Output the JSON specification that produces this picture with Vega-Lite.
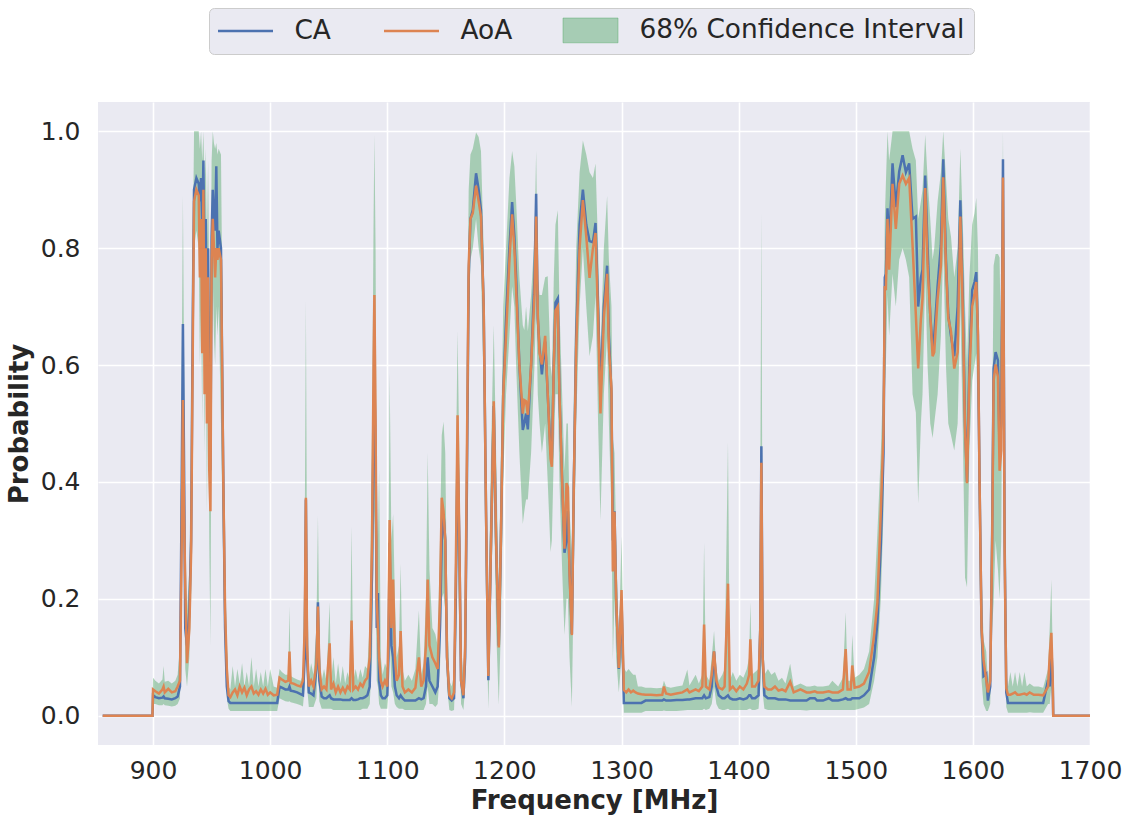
{
  "$schema": "https://vega.github.io/schema/vega-lite/v6.json",
  "width": 992,
  "height": 643,
  "autosize": {"type": "none"},
  "padding": {"left": 98, "top": 102, "right": 43, "bottom": 78},
  "background": "white",
  "config": {
    "view": {"stroke": null, "fill": "#EAEAF2"},
    "axis": {
      "grid": true, "gridColor": "white", "gridWidth": 1.6,
      "domain": false, "ticks": false,
      "labelFont": "DejaVu Sans", "labelFontSize": 25, "labelColor": "#262626",
      "titleFont": "DejaVu Sans", "titleFontSize": 26, "titleFontWeight": "bold", "titleColor": "#262626"
    },
    "legend": {
      "title": null, "orient": "none", "legendX": 111, "legendY": -94, "direction": "horizontal",
      "fillColor": "#EAEAF2", "strokeColor": "#CCCCCC", "cornerRadius": 5, "padding": 9,
      "labelFont": "DejaVu Sans", "labelFontSize": 26.4, "labelColor": "#262626", "labelOffset": 50, "labelLimit": 600,
      "columnPadding": 48, "symbolSize": 3025, "symbolType": "stroke", "symbolStrokeWidth": 2.5, "symbolOpacity": 1
    }
  },
  "data": {"values": [
    {"f":857,"CA":0,"AoA":0,"lo":0,"hi":0},
    {"f":899.5,"CA":0,"AoA":0,"lo":0,"hi":0},
    {"f":900,"CA":0.035,"AoA":0.045,"lo":0.02,"hi":0.065},
    {"f":902,"CA":0.032,"AoA":0.042,"lo":0.02,"hi":0.06},
    {"f":905,"CA":0.030,"AoA":0.038,"lo":0.018,"hi":0.055},
    {"f":908,"CA":0.031,"AoA":0.045,"lo":0.018,"hi":0.062},
    {"f":909,"CA":0.033,"AoA":0.05,"lo":0.02,"hi":0.085},
    {"f":910,"CA":0.030,"AoA":0.04,"lo":0.018,"hi":0.058},
    {"f":913,"CA":0.029,"AoA":0.046,"lo":0.017,"hi":0.06},
    {"f":916,"CA":0.028,"AoA":0.04,"lo":0.016,"hi":0.055},
    {"f":919,"CA":0.030,"AoA":0.042,"lo":0.017,"hi":0.06},
    {"f":921,"CA":0.033,"AoA":0.05,"lo":0.02,"hi":0.07},
    {"f":923,"CA":0.05,"AoA":0.06,"lo":0.03,"hi":0.12},
    {"f":924.5,"CA":0.4,"AoA":0.3,"lo":0.2,"hi":0.6},
    {"f":925.5,"CA":0.67,"AoA":0.54,"lo":0.45,"hi":0.89},
    {"f":926.5,"CA":0.42,"AoA":0.35,"lo":0.25,"hi":0.6},
    {"f":927.5,"CA":0.15,"AoA":0.22,"lo":0.08,"hi":0.3},
    {"f":929,"CA":0.12,"AoA":0.09,"lo":0.05,"hi":0.18},
    {"f":931,"CA":0.18,"AoA":0.15,"lo":0.1,"hi":0.25},
    {"f":932.5,"CA":0.3,"AoA":0.28,"lo":0.2,"hi":0.4},
    {"f":934,"CA":0.7,"AoA":0.65,"lo":0.55,"hi":0.8},
    {"f":935,"CA":0.9,"AoA":0.88,"lo":0.8,"hi":1.0},
    {"f":937,"CA":0.92,"AoA":0.9,"lo":0.83,"hi":1.0},
    {"f":939,"CA":0.91,"AoA":0.89,"lo":0.8,"hi":1.0},
    {"f":940,"CA":0.88,"AoA":0.75,"lo":0.6,"hi":0.97},
    {"f":941,"CA":0.92,"AoA":0.85,"lo":0.7,"hi":1.0},
    {"f":942,"CA":0.83,"AoA":0.62,"lo":0.5,"hi":0.95},
    {"f":943,"CA":0.95,"AoA":0.9,"lo":0.8,"hi":1.0},
    {"f":944,"CA":0.75,"AoA":0.55,"lo":0.45,"hi":0.9},
    {"f":945,"CA":0.85,"AoA":0.8,"lo":0.65,"hi":0.97},
    {"f":946,"CA":0.6,"AoA":0.5,"lo":0.35,"hi":0.8},
    {"f":947,"CA":0.8,"AoA":0.75,"lo":0.6,"hi":0.95},
    {"f":948,"CA":0.5,"AoA":0.42,"lo":0.3,"hi":0.72},
    {"f":949,"CA":0.42,"AoA":0.35,"lo":0.12,"hi":0.65},
    {"f":950,"CA":0.82,"AoA":0.78,"lo":0.6,"hi":0.95},
    {"f":951,"CA":0.9,"AoA":0.85,"lo":0.75,"hi":1.0},
    {"f":952,"CA":0.85,"AoA":0.8,"lo":0.65,"hi":0.98},
    {"f":953,"CA":0.83,"AoA":0.75,"lo":0.6,"hi":0.97},
    {"f":954,"CA":0.94,"AoA":0.8,"lo":0.7,"hi":0.98},
    {"f":955,"CA":0.8,"AoA":0.78,"lo":0.65,"hi":0.96},
    {"f":956,"CA":0.83,"AoA":0.8,"lo":0.7,"hi":0.97},
    {"f":958,"CA":0.8,"AoA":0.78,"lo":0.5,"hi":0.96},
    {"f":960,"CA":0.4,"AoA":0.4,"lo":0.25,"hi":0.55},
    {"f":961.5,"CA":0.15,"AoA":0.18,"lo":0.1,"hi":0.25},
    {"f":963,"CA":0.05,"AoA":0.08,"lo":0.03,"hi":0.13},
    {"f":964.5,"CA":0.025,"AoA":0.035,"lo":0.012,"hi":0.05},
    {"f":966,"CA":0.022,"AoA":0.032,"lo":0.008,"hi":0.045},
    {"f":968,"CA":0.022,"AoA":0.04,"lo":0.008,"hi":0.085},
    {"f":970,"CA":0.022,"AoA":0.045,"lo":0.008,"hi":0.05},
    {"f":972,"CA":0.022,"AoA":0.035,"lo":0.008,"hi":0.08},
    {"f":974,"CA":0.022,"AoA":0.05,"lo":0.008,"hi":0.055},
    {"f":976,"CA":0.022,"AoA":0.04,"lo":0.008,"hi":0.09},
    {"f":978,"CA":0.022,"AoA":0.048,"lo":0.008,"hi":0.05},
    {"f":980,"CA":0.022,"AoA":0.035,"lo":0.008,"hi":0.075},
    {"f":982,"CA":0.022,"AoA":0.045,"lo":0.008,"hi":0.05},
    {"f":984,"CA":0.022,"AoA":0.05,"lo":0.008,"hi":0.1},
    {"f":986,"CA":0.022,"AoA":0.038,"lo":0.008,"hi":0.05},
    {"f":988,"CA":0.022,"AoA":0.042,"lo":0.008,"hi":0.08},
    {"f":990,"CA":0.022,"AoA":0.036,"lo":0.008,"hi":0.05},
    {"f":992,"CA":0.022,"AoA":0.045,"lo":0.008,"hi":0.075},
    {"f":994,"CA":0.022,"AoA":0.038,"lo":0.008,"hi":0.05},
    {"f":996,"CA":0.022,"AoA":0.046,"lo":0.008,"hi":0.08},
    {"f":998,"CA":0.022,"AoA":0.036,"lo":0.008,"hi":0.05},
    {"f":1000,"CA":0.022,"AoA":0.04,"lo":0.008,"hi":0.08},
    {"f":1003,"CA":0.022,"AoA":0.035,"lo":0.008,"hi":0.05},
    {"f":1006,"CA":0.022,"AoA":0.036,"lo":0.008,"hi":0.048},
    {"f":1008,"CA":0.05,"AoA":0.065,"lo":0.03,"hi":0.08},
    {"f":1010,"CA":0.048,"AoA":0.062,"lo":0.028,"hi":0.075},
    {"f":1013,"CA":0.045,"AoA":0.058,"lo":0.025,"hi":0.07},
    {"f":1015.5,"CA":0.045,"AoA":0.06,"lo":0.024,"hi":0.07},
    {"f":1016.5,"CA":0.05,"AoA":0.11,"lo":0.025,"hi":0.187},
    {"f":1017.5,"CA":0.043,"AoA":0.056,"lo":0.023,"hi":0.068},
    {"f":1020,"CA":0.042,"AoA":0.055,"lo":0.022,"hi":0.065},
    {"f":1023,"CA":0.04,"AoA":0.052,"lo":0.02,"hi":0.062},
    {"f":1026,"CA":0.037,"AoA":0.05,"lo":0.018,"hi":0.06},
    {"f":1028,"CA":0.035,"AoA":0.06,"lo":0.016,"hi":0.07},
    {"f":1029.5,"CA":0.1,"AoA":0.15,"lo":0.05,"hi":0.3},
    {"f":1030.5,"CA":0.37,"AoA":0.373,"lo":0.2,"hi":0.71},
    {"f":1031.5,"CA":0.1,"AoA":0.12,"lo":0.05,"hi":0.25},
    {"f":1033,"CA":0.04,"AoA":0.05,"lo":0.015,"hi":0.065},
    {"f":1035,"CA":0.038,"AoA":0.06,"lo":0.015,"hi":0.09},
    {"f":1037,"CA":0.035,"AoA":0.05,"lo":0.015,"hi":0.07},
    {"f":1039.5,"CA":0.08,"AoA":0.09,"lo":0.03,"hi":0.15},
    {"f":1040.8,"CA":0.194,"AoA":0.187,"lo":0.1,"hi":0.342},
    {"f":1042,"CA":0.06,"AoA":0.08,"lo":0.025,"hi":0.12},
    {"f":1044,"CA":0.033,"AoA":0.045,"lo":0.012,"hi":0.06},
    {"f":1046,"CA":0.03,"AoA":0.05,"lo":0.012,"hi":0.08},
    {"f":1048,"CA":0.03,"AoA":0.045,"lo":0.012,"hi":0.06},
    {"f":1050.8,"CA":0.035,"AoA":0.124,"lo":0.012,"hi":0.194},
    {"f":1052,"CA":0.03,"AoA":0.045,"lo":0.012,"hi":0.06},
    {"f":1054,"CA":0.028,"AoA":0.055,"lo":0.01,"hi":0.1},
    {"f":1056,"CA":0.028,"AoA":0.04,"lo":0.01,"hi":0.055},
    {"f":1058,"CA":0.028,"AoA":0.05,"lo":0.01,"hi":0.09},
    {"f":1060,"CA":0.028,"AoA":0.04,"lo":0.01,"hi":0.055},
    {"f":1062,"CA":0.027,"AoA":0.048,"lo":0.01,"hi":0.085},
    {"f":1064,"CA":0.027,"AoA":0.04,"lo":0.01,"hi":0.055},
    {"f":1066,"CA":0.027,"AoA":0.05,"lo":0.01,"hi":0.075},
    {"f":1068,"CA":0.027,"AoA":0.045,"lo":0.01,"hi":0.06},
    {"f":1069.5,"CA":0.03,"AoA":0.163,"lo":0.01,"hi":0.324},
    {"f":1071,"CA":0.027,"AoA":0.045,"lo":0.01,"hi":0.06},
    {"f":1073,"CA":0.027,"AoA":0.05,"lo":0.01,"hi":0.08},
    {"f":1075,"CA":0.028,"AoA":0.045,"lo":0.01,"hi":0.06},
    {"f":1077,"CA":0.03,"AoA":0.055,"lo":0.01,"hi":0.08},
    {"f":1079,"CA":0.03,"AoA":0.05,"lo":0.012,"hi":0.065},
    {"f":1081,"CA":0.032,"AoA":0.06,"lo":0.012,"hi":0.085},
    {"f":1083,"CA":0.035,"AoA":0.065,"lo":0.012,"hi":0.08},
    {"f":1085,"CA":0.05,"AoA":0.1,"lo":0.02,"hi":0.16},
    {"f":1087,"CA":0.25,"AoA":0.3,"lo":0.1,"hi":0.5},
    {"f":1088.3,"CA":0.5,"AoA":0.6,"lo":0.3,"hi":0.85},
    {"f":1089,"CA":0.58,"AoA":0.72,"lo":0.35,"hi":0.994},
    {"f":1090,"CA":0.45,"AoA":0.5,"lo":0.25,"hi":0.8},
    {"f":1091,"CA":0.15,"AoA":0.2,"lo":0.06,"hi":0.35},
    {"f":1092,"CA":0.21,"AoA":0.15,"lo":0.05,"hi":0.3},
    {"f":1093,"CA":0.06,"AoA":0.1,"lo":0.02,"hi":0.42},
    {"f":1094.5,"CA":0.035,"AoA":0.06,"lo":0.012,"hi":0.1},
    {"f":1096,"CA":0.03,"AoA":0.05,"lo":0.012,"hi":0.07},
    {"f":1098,"CA":0.03,"AoA":0.06,"lo":0.012,"hi":0.09},
    {"f":1100,"CA":0.035,"AoA":0.05,"lo":0.012,"hi":0.08},
    {"f":1101,"CA":0.1,"AoA":0.15,"lo":0.04,"hi":0.25},
    {"f":1102,"CA":0.296,"AoA":0.335,"lo":0.15,"hi":0.587},
    {"f":1103.5,"CA":0.12,"AoA":0.15,"lo":0.05,"hi":0.3},
    {"f":1105,"CA":0.1,"AoA":0.233,"lo":0.04,"hi":0.345},
    {"f":1106.5,"CA":0.05,"AoA":0.1,"lo":0.02,"hi":0.2},
    {"f":1108,"CA":0.035,"AoA":0.06,"lo":0.015,"hi":0.1},
    {"f":1110,"CA":0.03,"AoA":0.07,"lo":0.012,"hi":0.12},
    {"f":1111.4,"CA":0.035,"AoA":0.145,"lo":0.012,"hi":0.26},
    {"f":1113,"CA":0.03,"AoA":0.05,"lo":0.012,"hi":0.08},
    {"f":1115,"CA":0.026,"AoA":0.04,"lo":0.01,"hi":0.06},
    {"f":1118,"CA":0.026,"AoA":0.045,"lo":0.01,"hi":0.07},
    {"f":1121,"CA":0.026,"AoA":0.04,"lo":0.01,"hi":0.06},
    {"f":1124,"CA":0.026,"AoA":0.048,"lo":0.01,"hi":0.08},
    {"f":1127,"CA":0.03,"AoA":0.1,"lo":0.01,"hi":0.18},
    {"f":1129,"CA":0.028,"AoA":0.05,"lo":0.01,"hi":0.07},
    {"f":1131,"CA":0.03,"AoA":0.06,"lo":0.01,"hi":0.09},
    {"f":1133,"CA":0.05,"AoA":0.12,"lo":0.02,"hi":0.2},
    {"f":1134.5,"CA":0.1,"AoA":0.233,"lo":0.05,"hi":0.45},
    {"f":1136,"CA":0.06,"AoA":0.12,"lo":0.02,"hi":0.25},
    {"f":1138.5,"CA":0.05,"AoA":0.1,"lo":0.02,"hi":0.15},
    {"f":1141,"CA":0.04,"AoA":0.09,"lo":0.015,"hi":0.14},
    {"f":1143,"CA":0.05,"AoA":0.08,"lo":0.02,"hi":0.12},
    {"f":1145,"CA":0.15,"AoA":0.2,"lo":0.08,"hi":0.3},
    {"f":1146.5,"CA":0.3,"AoA":0.373,"lo":0.2,"hi":0.48},
    {"f":1148,"CA":0.345,"AoA":0.35,"lo":0.21,"hi":0.503},
    {"f":1149.5,"CA":0.3,"AoA":0.3,"lo":0.18,"hi":0.45},
    {"f":1151,"CA":0.1,"AoA":0.1,"lo":0.05,"hi":0.2},
    {"f":1153,"CA":0.03,"AoA":0.035,"lo":0.01,"hi":0.06},
    {"f":1155,"CA":0.026,"AoA":0.03,"lo":0.008,"hi":0.05},
    {"f":1157,"CA":0.03,"AoA":0.04,"lo":0.01,"hi":0.07},
    {"f":1158.5,"CA":0.2,"AoA":0.25,"lo":0.1,"hi":0.4},
    {"f":1160,"CA":0.45,"AoA":0.514,"lo":0.3,"hi":0.658},
    {"f":1161.5,"CA":0.3,"AoA":0.3,"lo":0.15,"hi":0.45},
    {"f":1163,"CA":0.06,"AoA":0.06,"lo":0.02,"hi":0.12},
    {"f":1165,"CA":0.03,"AoA":0.035,"lo":0.01,"hi":0.06},
    {"f":1166.5,"CA":0.1,"AoA":0.12,"lo":0.05,"hi":0.2},
    {"f":1168,"CA":0.4,"AoA":0.45,"lo":0.3,"hi":0.6},
    {"f":1169.5,"CA":0.75,"AoA":0.77,"lo":0.65,"hi":0.9},
    {"f":1171,"CA":0.85,"AoA":0.85,"lo":0.78,"hi":0.96},
    {"f":1173,"CA":0.865,"AoA":0.86,"lo":0.8,"hi":0.97},
    {"f":1175.8,"CA":0.928,"AoA":0.907,"lo":0.85,"hi":0.998},
    {"f":1178,"CA":0.9,"AoA":0.88,"lo":0.8,"hi":0.99},
    {"f":1180,"CA":0.865,"AoA":0.854,"lo":0.77,"hi":0.966},
    {"f":1182.3,"CA":0.7,"AoA":0.7,"lo":0.55,"hi":0.8},
    {"f":1184.3,"CA":0.35,"AoA":0.35,"lo":0.2,"hi":0.45},
    {"f":1186.3,"CA":0.061,"AoA":0.068,"lo":0.012,"hi":0.17},
    {"f":1188.6,"CA":0.3,"AoA":0.3,"lo":0.2,"hi":0.45},
    {"f":1190.9,"CA":0.53,"AoA":0.538,"lo":0.4,"hi":0.668},
    {"f":1192.9,"CA":0.3,"AoA":0.3,"lo":0.15,"hi":0.45},
    {"f":1195.2,"CA":0.12,"AoA":0.117,"lo":0.019,"hi":0.208},
    {"f":1197,"CA":0.3,"AoA":0.3,"lo":0.15,"hi":0.45},
    {"f":1199,"CA":0.55,"AoA":0.55,"lo":0.4,"hi":0.7},
    {"f":1201.4,"CA":0.68,"AoA":0.65,"lo":0.55,"hi":0.8},
    {"f":1204.3,"CA":0.8,"AoA":0.78,"lo":0.65,"hi":0.92},
    {"f":1206.6,"CA":0.879,"AoA":0.858,"lo":0.735,"hi":0.966},
    {"f":1208.5,"CA":0.82,"AoA":0.8,"lo":0.7,"hi":0.94},
    {"f":1210,"CA":0.75,"AoA":0.73,"lo":0.6,"hi":0.88},
    {"f":1212.8,"CA":0.6,"AoA":0.6,"lo":0.45,"hi":0.75},
    {"f":1215.7,"CA":0.489,"AoA":0.517,"lo":0.328,"hi":0.668},
    {"f":1217,"CA":0.5,"AoA":0.54,"lo":0.35,"hi":0.66},
    {"f":1218.5,"CA":0.517,"AoA":0.538,"lo":0.37,"hi":0.7},
    {"f":1220,"CA":0.49,"AoA":0.515,"lo":0.37,"hi":0.658},
    {"f":1222.8,"CA":0.6,"AoA":0.6,"lo":0.45,"hi":0.72},
    {"f":1225.7,"CA":0.75,"AoA":0.72,"lo":0.6,"hi":0.82},
    {"f":1227.1,"CA":0.893,"AoA":0.854,"lo":0.7,"hi":0.966},
    {"f":1228.5,"CA":0.68,"AoA":0.686,"lo":0.55,"hi":0.75},
    {"f":1230,"CA":0.63,"AoA":0.62,"lo":0.5,"hi":0.72},
    {"f":1232,"CA":0.584,"AoA":0.601,"lo":0.45,"hi":0.72},
    {"f":1234.8,"CA":0.64,"AoA":0.65,"lo":0.5,"hi":0.75},
    {"f":1237,"CA":0.55,"AoA":0.55,"lo":0.4,"hi":0.752},
    {"f":1239.4,"CA":0.45,"AoA":0.44,"lo":0.28,"hi":0.6},
    {"f":1240.5,"CA":0.44,"AoA":0.426,"lo":0.3,"hi":0.58},
    {"f":1242.2,"CA":0.6,"AoA":0.6,"lo":0.45,"hi":0.75},
    {"f":1243.6,"CA":0.707,"AoA":0.693,"lo":0.55,"hi":0.84},
    {"f":1245.6,"CA":0.714,"AoA":0.7,"lo":0.55,"hi":0.865},
    {"f":1247,"CA":0.55,"AoA":0.55,"lo":0.4,"hi":0.7},
    {"f":1249.3,"CA":0.4,"AoA":0.4,"lo":0.25,"hi":0.55},
    {"f":1251.3,"CA":0.279,"AoA":0.286,"lo":0.138,"hi":0.419},
    {"f":1253,"CA":0.3,"AoA":0.398,"lo":0.2,"hi":0.5},
    {"f":1254.2,"CA":0.35,"AoA":0.391,"lo":0.2,"hi":0.5},
    {"f":1255.6,"CA":0.25,"AoA":0.243,"lo":0.1,"hi":0.35},
    {"f":1257.6,"CA":0.14,"AoA":0.138,"lo":0.015,"hi":0.28},
    {"f":1259.3,"CA":0.4,"AoA":0.4,"lo":0.25,"hi":0.55},
    {"f":1261.3,"CA":0.65,"AoA":0.63,"lo":0.5,"hi":0.8},
    {"f":1264.2,"CA":0.84,"AoA":0.8,"lo":0.7,"hi":0.93},
    {"f":1267,"CA":0.9,"AoA":0.882,"lo":0.8,"hi":0.984},
    {"f":1269.9,"CA":0.84,"AoA":0.82,"lo":0.7,"hi":0.96},
    {"f":1272.7,"CA":0.812,"AoA":0.749,"lo":0.615,"hi":0.93},
    {"f":1275.6,"CA":0.81,"AoA":0.8,"lo":0.65,"hi":0.92},
    {"f":1277.8,"CA":0.843,"AoA":0.826,"lo":0.72,"hi":0.945},
    {"f":1280,"CA":0.7,"AoA":0.68,"lo":0.5,"hi":0.8},
    {"f":1282,"CA":0.55,"AoA":0.517,"lo":0.335,"hi":0.62},
    {"f":1284.9,"CA":0.7,"AoA":0.68,"lo":0.55,"hi":0.8},
    {"f":1287.7,"CA":0.77,"AoA":0.756,"lo":0.65,"hi":0.889},
    {"f":1289.2,"CA":0.65,"AoA":0.63,"lo":0.5,"hi":0.78},
    {"f":1291.4,"CA":0.55,"AoA":0.56,"lo":0.35,"hi":0.7},
    {"f":1292.6,"CA":0.3,"AoA":0.247,"lo":0.096,"hi":0.475},
    {"f":1294,"CA":0.35,"AoA":0.349,"lo":0.2,"hi":0.45},
    {"f":1295.4,"CA":0.2,"AoA":0.2,"lo":0.1,"hi":0.3},
    {"f":1297.7,"CA":0.08,"AoA":0.082,"lo":0.04,"hi":0.12},
    {"f":1300,"CA":0.2,"AoA":0.215,"lo":0.1,"hi":0.307},
    {"f":1302,"CA":0.022,"AoA":0.044,"lo":0.005,"hi":0.082},
    {"f":1304,"CA":0.022,"AoA":0.04,"lo":0.005,"hi":0.075},
    {"f":1306,"CA":0.022,"AoA":0.045,"lo":0.005,"hi":0.08},
    {"f":1308,"CA":0.022,"AoA":0.04,"lo":0.005,"hi":0.075},
    {"f":1310,"CA":0.022,"AoA":0.043,"lo":0.005,"hi":0.07},
    {"f":1312,"CA":0.022,"AoA":0.04,"lo":0.005,"hi":0.07},
    {"f":1314,"CA":0.022,"AoA":0.038,"lo":0.005,"hi":0.05},
    {"f":1317,"CA":0.022,"AoA":0.037,"lo":0.005,"hi":0.05},
    {"f":1320.5,"CA":0.026,"AoA":0.036,"lo":0.008,"hi":0.048},
    {"f":1325,"CA":0.026,"AoA":0.036,"lo":0.008,"hi":0.048},
    {"f":1330,"CA":0.026,"AoA":0.035,"lo":0.008,"hi":0.047},
    {"f":1334.8,"CA":0.026,"AoA":0.036,"lo":0.008,"hi":0.048},
    {"f":1336.2,"CA":0.028,"AoA":0.05,"lo":0.009,"hi":0.06},
    {"f":1338,"CA":0.026,"AoA":0.038,"lo":0.008,"hi":0.05},
    {"f":1342,"CA":0.026,"AoA":0.036,"lo":0.008,"hi":0.048},
    {"f":1347,"CA":0.027,"AoA":0.038,"lo":0.008,"hi":0.05},
    {"f":1352,"CA":0.027,"AoA":0.04,"lo":0.009,"hi":0.052},
    {"f":1356.2,"CA":0.028,"AoA":0.045,"lo":0.01,"hi":0.079},
    {"f":1358,"CA":0.028,"AoA":0.04,"lo":0.01,"hi":0.052},
    {"f":1363.3,"CA":0.03,"AoA":0.045,"lo":0.01,"hi":0.07},
    {"f":1366,"CA":0.03,"AoA":0.042,"lo":0.01,"hi":0.055},
    {"f":1369,"CA":0.03,"AoA":0.05,"lo":0.01,"hi":0.07},
    {"f":1370.5,"CA":0.035,"AoA":0.156,"lo":0.012,"hi":0.296},
    {"f":1372,"CA":0.03,"AoA":0.05,"lo":0.01,"hi":0.07},
    {"f":1375,"CA":0.032,"AoA":0.045,"lo":0.012,"hi":0.06},
    {"f":1377,"CA":0.05,"AoA":0.07,"lo":0.02,"hi":0.1},
    {"f":1379,"CA":0.11,"AoA":0.11,"lo":0.05,"hi":0.145},
    {"f":1381,"CA":0.05,"AoA":0.06,"lo":0.02,"hi":0.08},
    {"f":1383,"CA":0.035,"AoA":0.048,"lo":0.012,"hi":0.06},
    {"f":1386,"CA":0.03,"AoA":0.045,"lo":0.01,"hi":0.07},
    {"f":1388,"CA":0.03,"AoA":0.05,"lo":0.01,"hi":0.08},
    {"f":1390.9,"CA":0.035,"AoA":0.226,"lo":0.012,"hi":0.468},
    {"f":1392.5,"CA":0.03,"AoA":0.045,"lo":0.01,"hi":0.06},
    {"f":1395,"CA":0.028,"AoA":0.05,"lo":0.01,"hi":0.075},
    {"f":1398,"CA":0.028,"AoA":0.042,"lo":0.01,"hi":0.06},
    {"f":1401,"CA":0.03,"AoA":0.05,"lo":0.01,"hi":0.07},
    {"f":1404,"CA":0.028,"AoA":0.045,"lo":0.01,"hi":0.065},
    {"f":1407,"CA":0.03,"AoA":0.055,"lo":0.01,"hi":0.08},
    {"f":1409,"CA":0.035,"AoA":0.07,"lo":0.012,"hi":0.1},
    {"f":1410,"CA":0.035,"AoA":0.131,"lo":0.012,"hi":0.194},
    {"f":1411.5,"CA":0.03,"AoA":0.05,"lo":0.01,"hi":0.07},
    {"f":1414,"CA":0.03,"AoA":0.05,"lo":0.01,"hi":0.075},
    {"f":1417,"CA":0.035,"AoA":0.06,"lo":0.012,"hi":0.08},
    {"f":1418.5,"CA":0.15,"AoA":0.15,"lo":0.05,"hi":0.4},
    {"f":1419.4,"CA":0.461,"AoA":0.433,"lo":0.1,"hi":0.861},
    {"f":1420.5,"CA":0.1,"AoA":0.1,"lo":0.04,"hi":0.2},
    {"f":1422,"CA":0.035,"AoA":0.05,"lo":0.012,"hi":0.07},
    {"f":1425,"CA":0.03,"AoA":0.045,"lo":0.01,"hi":0.08},
    {"f":1428,"CA":0.03,"AoA":0.045,"lo":0.01,"hi":0.07},
    {"f":1431,"CA":0.03,"AoA":0.05,"lo":0.01,"hi":0.075},
    {"f":1434,"CA":0.028,"AoA":0.043,"lo":0.01,"hi":0.06},
    {"f":1437,"CA":0.028,"AoA":0.045,"lo":0.01,"hi":0.065},
    {"f":1440,"CA":0.028,"AoA":0.042,"lo":0.01,"hi":0.055},
    {"f":1444,"CA":0.026,"AoA":0.058,"lo":0.01,"hi":0.089},
    {"f":1447,"CA":0.026,"AoA":0.04,"lo":0.01,"hi":0.05},
    {"f":1452.8,"CA":0.026,"AoA":0.045,"lo":0.01,"hi":0.055},
    {"f":1458,"CA":0.026,"AoA":0.04,"lo":0.009,"hi":0.05},
    {"f":1461,"CA":0.03,"AoA":0.04,"lo":0.01,"hi":0.05},
    {"f":1465,"CA":0.03,"AoA":0.042,"lo":0.01,"hi":0.052},
    {"f":1467,"CA":0.026,"AoA":0.04,"lo":0.01,"hi":0.05},
    {"f":1472,"CA":0.026,"AoA":0.04,"lo":0.01,"hi":0.05},
    {"f":1477,"CA":0.03,"AoA":0.042,"lo":0.01,"hi":0.052},
    {"f":1480,"CA":0.026,"AoA":0.04,"lo":0.01,"hi":0.06},
    {"f":1485,"CA":0.026,"AoA":0.04,"lo":0.01,"hi":0.05},
    {"f":1489,"CA":0.028,"AoA":0.045,"lo":0.01,"hi":0.065},
    {"f":1491.4,"CA":0.03,"AoA":0.114,"lo":0.01,"hi":0.177},
    {"f":1493,"CA":0.028,"AoA":0.045,"lo":0.01,"hi":0.06},
    {"f":1495.7,"CA":0.028,"AoA":0.045,"lo":0.01,"hi":0.06},
    {"f":1497,"CA":0.03,"AoA":0.086,"lo":0.01,"hi":0.138},
    {"f":1499,"CA":0.03,"AoA":0.048,"lo":0.01,"hi":0.065},
    {"f":1503,"CA":0.03,"AoA":0.05,"lo":0.012,"hi":0.07},
    {"f":1507,"CA":0.035,"AoA":0.055,"lo":0.014,"hi":0.08},
    {"f":1511.4,"CA":0.045,"AoA":0.075,"lo":0.02,"hi":0.11},
    {"f":1515.7,"CA":0.1,"AoA":0.138,"lo":0.06,"hi":0.2},
    {"f":1518.5,"CA":0.16,"AoA":0.194,"lo":0.1,"hi":0.314},
    {"f":1521.4,"CA":0.293,"AoA":0.35,"lo":0.2,"hi":0.45},
    {"f":1523.7,"CA":0.45,"AoA":0.489,"lo":0.35,"hi":0.6},
    {"f":1524.8,"CA":0.75,"AoA":0.735,"lo":0.55,"hi":0.85},
    {"f":1525.7,"CA":0.756,"AoA":0.728,"lo":0.6,"hi":0.91},
    {"f":1527.1,"CA":0.868,"AoA":0.85,"lo":0.72,"hi":1.0},
    {"f":1528.5,"CA":0.8,"AoA":0.763,"lo":0.65,"hi":0.95},
    {"f":1531.4,"CA":0.945,"AoA":0.91,"lo":0.756,"hi":1.0},
    {"f":1534.2,"CA":0.87,"AoA":0.833,"lo":0.7,"hi":1.0},
    {"f":1537.1,"CA":0.931,"AoA":0.91,"lo":0.78,"hi":1.0},
    {"f":1540,"CA":0.959,"AoA":0.924,"lo":0.8,"hi":1.0},
    {"f":1542.8,"CA":0.93,"AoA":0.91,"lo":0.78,"hi":1.0},
    {"f":1545.6,"CA":0.945,"AoA":0.92,"lo":0.75,"hi":1.0},
    {"f":1548.5,"CA":0.85,"AoA":0.805,"lo":0.55,"hi":0.97},
    {"f":1551.3,"CA":0.854,"AoA":0.686,"lo":0.519,"hi":0.95},
    {"f":1553.3,"CA":0.7,"AoA":0.594,"lo":0.363,"hi":0.85},
    {"f":1555.6,"CA":0.749,"AoA":0.679,"lo":0.5,"hi":0.88},
    {"f":1557,"CA":0.763,"AoA":0.714,"lo":0.55,"hi":0.9},
    {"f":1559.3,"CA":0.924,"AoA":0.903,"lo":0.75,"hi":0.994},
    {"f":1561.3,"CA":0.8,"AoA":0.77,"lo":0.6,"hi":0.92},
    {"f":1563.6,"CA":0.686,"AoA":0.686,"lo":0.5,"hi":0.85},
    {"f":1565.6,"CA":0.629,"AoA":0.615,"lo":0.475,"hi":0.78},
    {"f":1567,"CA":0.65,"AoA":0.622,"lo":0.5,"hi":0.8},
    {"f":1569.9,"CA":0.735,"AoA":0.714,"lo":0.55,"hi":0.88},
    {"f":1572.7,"CA":0.805,"AoA":0.77,"lo":0.65,"hi":0.93},
    {"f":1574.7,"CA":0.952,"AoA":0.921,"lo":0.8,"hi":1.0},
    {"f":1577,"CA":0.78,"AoA":0.77,"lo":0.6,"hi":0.92},
    {"f":1579,"CA":0.686,"AoA":0.68,"lo":0.5,"hi":0.85},
    {"f":1581.3,"CA":0.65,"AoA":0.658,"lo":0.48,"hi":0.82},
    {"f":1584.1,"CA":0.615,"AoA":0.594,"lo":0.454,"hi":0.75},
    {"f":1587,"CA":0.7,"AoA":0.622,"lo":0.5,"hi":0.8},
    {"f":1589.3,"CA":0.882,"AoA":0.854,"lo":0.7,"hi":0.97},
    {"f":1591.3,"CA":0.72,"AoA":0.7,"lo":0.5,"hi":0.85},
    {"f":1593.3,"CA":0.5,"AoA":0.489,"lo":0.236,"hi":0.7},
    {"f":1595,"CA":0.4,"AoA":0.398,"lo":0.22,"hi":0.6},
    {"f":1597,"CA":0.6,"AoA":0.58,"lo":0.45,"hi":0.75},
    {"f":1599.4,"CA":0.728,"AoA":0.7,"lo":0.573,"hi":0.84},
    {"f":1601.4,"CA":0.742,"AoA":0.721,"lo":0.6,"hi":0.86},
    {"f":1602.9,"CA":0.759,"AoA":0.742,"lo":0.62,"hi":0.886},
    {"f":1604.3,"CA":0.65,"AoA":0.658,"lo":0.5,"hi":0.8},
    {"f":1605.7,"CA":0.4,"AoA":0.4,"lo":0.25,"hi":0.55},
    {"f":1607.4,"CA":0.15,"AoA":0.15,"lo":0.06,"hi":0.25},
    {"f":1609.1,"CA":0.068,"AoA":0.096,"lo":0.02,"hi":0.13},
    {"f":1611.4,"CA":0.072,"AoA":0.061,"lo":0.008,"hi":0.11},
    {"f":1612.8,"CA":0.026,"AoA":0.04,"lo":0.008,"hi":0.06},
    {"f":1614.8,"CA":0.05,"AoA":0.06,"lo":0.02,"hi":0.1},
    {"f":1616.5,"CA":0.32,"AoA":0.3,"lo":0.15,"hi":0.5},
    {"f":1617.7,"CA":0.594,"AoA":0.573,"lo":0.194,"hi":0.77},
    {"f":1619.4,"CA":0.622,"AoA":0.601,"lo":0.3,"hi":0.79},
    {"f":1621.4,"CA":0.608,"AoA":0.58,"lo":0.25,"hi":0.79},
    {"f":1622.8,"CA":0.45,"AoA":0.419,"lo":0.2,"hi":0.784},
    {"f":1624.2,"CA":0.5,"AoA":0.454,"lo":0.3,"hi":0.6},
    {"f":1625.7,"CA":0.952,"AoA":0.921,"lo":0.8,"hi":1.0},
    {"f":1627.1,"CA":0.3,"AoA":0.28,"lo":0.15,"hi":0.4},
    {"f":1628.5,"CA":0.04,"AoA":0.047,"lo":0.015,"hi":0.075},
    {"f":1630,"CA":0.022,"AoA":0.036,"lo":0.005,"hi":0.05},
    {"f":1632,"CA":0.022,"AoA":0.036,"lo":0.005,"hi":0.075},
    {"f":1634,"CA":0.022,"AoA":0.038,"lo":0.005,"hi":0.05},
    {"f":1636,"CA":0.022,"AoA":0.04,"lo":0.005,"hi":0.075},
    {"f":1638,"CA":0.022,"AoA":0.036,"lo":0.005,"hi":0.05},
    {"f":1640,"CA":0.022,"AoA":0.036,"lo":0.005,"hi":0.075},
    {"f":1642,"CA":0.022,"AoA":0.037,"lo":0.005,"hi":0.05},
    {"f":1644,"CA":0.022,"AoA":0.038,"lo":0.005,"hi":0.075},
    {"f":1646,"CA":0.022,"AoA":0.036,"lo":0.005,"hi":0.05},
    {"f":1648.5,"CA":0.022,"AoA":0.04,"lo":0.006,"hi":0.055},
    {"f":1652,"CA":0.022,"AoA":0.036,"lo":0.005,"hi":0.05},
    {"f":1656,"CA":0.022,"AoA":0.036,"lo":0.005,"hi":0.05},
    {"f":1660,"CA":0.022,"AoA":0.035,"lo":0.005,"hi":0.048},
    {"f":1664.2,"CA":0.061,"AoA":0.05,"lo":0.02,"hi":0.08},
    {"f":1665.6,"CA":0.05,"AoA":0.103,"lo":0.02,"hi":0.15},
    {"f":1667,"CA":0.12,"AoA":0.142,"lo":0.05,"hi":0.233},
    {"f":1668.2,"CA":0.05,"AoA":0.06,"lo":0.01,"hi":0.1},
    {"f":1668.6,"CA":0,"AoA":0,"lo":0,"hi":0},
    {"f":1700,"CA":0,"AoA":0,"lo":0,"hi":0}
  ]},
  "layer": [
    {
      "mark": {"type": "area", "opacity": 0.45, "interpolate": "linear"},
      "encoding": {
        "x": {"field": "f", "type": "quantitative", "scale": {"domain": [853, 1700], "nice": false, "zero": false},
          "axis": {"title": "Frequency [MHz]", "values": [900,1000,1100,1200,1300,1400,1500,1600,1700], "format": "d", "labelFlush": false, "labelPadding": 13, "titlePadding": 4}},
        "y": {"field": "lo", "type": "quantitative", "scale": {"domain": [-0.05, 1.05], "nice": false, "zero": false},
          "axis": {"title": "Probability", "values": [0,0.2,0.4,0.6,0.8,1.0], "format": ".1f", "labelPadding": 18, "titlePadding": 8}},
        "y2": {"field": "hi"},
        "color": {"datum": "68% Confidence Interval", "type": "nominal",
          "scale": {"domain": ["CA", "AoA", "68% Confidence Interval"], "range": ["#4C72B0", "#DD8452", "#55A868"]},
          "legend": {
            "title": null, "columnPadding": 48, "labelOffset": 50,
            "encode": {"symbols": {"update": {
              "x": {"value": 27.5},
              "shape": {"signal": "datum.value === '68% Confidence Interval' ? 'M-1,-0.45H1V0.45H-1Z' : 'M-1,0H1'"},
              "size": {"value": 3025},
              "fill": {"signal": "datum.value === '68% Confidence Interval' ? '#55A868' : 'transparent'"},
              "fillOpacity": {"value": 0.45},
              "stroke": {"signal": "datum.value === 'CA' ? '#4C72B0' : datum.value === 'AoA' ? '#DD8452' : '#55A868'"},
              "strokeWidth": {"signal": "datum.value === '68% Confidence Interval' ? 1 : 2.5"},
              "strokeOpacity": {"signal": "datum.value === '68% Confidence Interval' ? 0.45 : 1"},
              "opacity": {"value": 1}
            }}}
          }
        }
      }
    },
    {
      "transform": [{"fold": ["CA", "AoA"], "as": ["series", "p"]}],
      "mark": {"type": "line", "strokeWidth": 2.5, "interpolate": "linear"},
      "encoding": {
        "x": {"field": "f", "type": "quantitative"},
        "y": {"field": "p", "type": "quantitative"},
        "color": {"field": "series", "type": "nominal",
          "legend": {
            "title": null, "columnPadding": 48, "labelOffset": 50,
            "encode": {"symbols": {"update": {
              "x": {"value": 27.5},
              "shape": {"signal": "datum.value === '68% Confidence Interval' ? 'M-1,-0.45H1V0.45H-1Z' : 'M-1,0H1'"},
              "size": {"value": 3025},
              "fill": {"signal": "datum.value === '68% Confidence Interval' ? '#55A868' : 'transparent'"},
              "fillOpacity": {"value": 0.45},
              "stroke": {"signal": "datum.value === 'CA' ? '#4C72B0' : datum.value === 'AoA' ? '#DD8452' : '#55A868'"},
              "strokeWidth": {"signal": "datum.value === '68% Confidence Interval' ? 1 : 2.5"},
              "strokeOpacity": {"signal": "datum.value === '68% Confidence Interval' ? 0.45 : 1"},
              "opacity": {"value": 1}
            }}}
          }
        },
        "order": {"field": "f", "type": "quantitative"}
      }
    }
  ]
}
